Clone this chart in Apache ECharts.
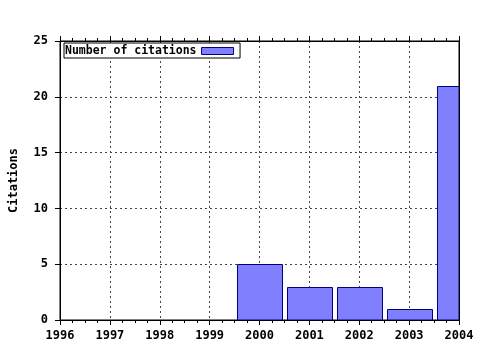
<!DOCTYPE html>
<html>
<head>
<meta charset="utf-8">
<script src="https://cdn.jsdelivr.net/npm/echarts@6/dist/echarts.min.js"></script>
<style>html,body{margin:0;padding:0;background:#fff}#c{width:480px;height:350px}</style>
</head>
<body>
<div id="c"></div>
<script>
var years = [2000, 2001, 2002, 2003, 2004];
var citations = [5, 3, 3, 1, 21];
var xMin = 1996, xMax = 2004;
var yMin = 0, yMax = 25, yStep = 5;
var seriesName = 'Number of citations';
var yTitle = 'Citations';

var FONT = 'DejaVu Sans Mono';
var chart = echarts.init(document.getElementById('c'), null, {renderer: 'canvas'});
var data = years.map(function (y, i) { return [y, citations[i]]; });
var txt = {fontFamily: FONT, fontWeight: 'bold', fontSize: 12, color: '#000'};
var grid = {type: [2, 3], color: '#444', width: 1};

chart.setOption({
  animation: false,
  backgroundColor: '#fff',
  grid: {left: 58, right: 21, top: 41, bottom: 30, show: true, borderColor: '#000', borderWidth: 1, backgroundColor: 'transparent'},
  legend: {
    left: 64, top: 43, orient: 'horizontal', align: 'right',
    padding: [2, 6, 1, 1], borderColor: '#000', borderWidth: 1, backgroundColor: '#fff',
    itemWidth: 32, itemHeight: 7, icon: 'rect',
    textStyle: Object.assign({}, txt, {fontSize: 11.5}),
    data: [{name: seriesName, icon: 'rect', itemStyle: {color: '#8080ff', borderColor: '#000080', borderWidth: 1}}]
  },
  xAxis: [{
    type: 'value', min: xMin, max: xMax, interval: 1, position: 'bottom',
    axisLine: {show: true, onZero: false, lineStyle: {color: '#000'}},
    axisTick: {show: true, inside: false, length: 5, lineStyle: {color: '#000'}},
    minorTick: {show: true, splitNumber: 4, length: 3, lineStyle: {color: '#000'}},
    axisLabel: Object.assign({margin: 10, formatter: function (v) { return String(v); }}, txt),
    splitLine: {show: true, lineStyle: grid}
  }, {
    type: 'value', min: xMin, max: xMax, interval: 1, position: 'top',
    axisLine: {show: true, onZero: false, lineStyle: {color: '#000'}},
    axisTick: {show: true, inside: false, length: 5, lineStyle: {color: '#000'}},
    minorTick: {show: true, splitNumber: 4, length: 3, lineStyle: {color: '#000'}},
    axisLabel: {show: false}, splitLine: {show: false}
  }],
  yAxis: [{
    type: 'value', min: yMin, max: yMax, interval: yStep,
    name: yTitle, nameLocation: 'middle', nameGap: 40, nameRotate: 90,
    nameTextStyle: txt,
    axisLine: {show: true, onZero: false, lineStyle: {color: '#000'}},
    axisTick: {show: true, inside: false, length: 5, lineStyle: {color: '#000'}},
    axisLabel: Object.assign({margin: 12}, txt),
    splitLine: {show: true, lineStyle: grid}
  }, {
    type: 'value', min: yMin, max: yMax, interval: yStep, position: 'right', z: 10,
    axisLine: {show: true, onZero: false, lineStyle: {color: '#000'}},
    axisTick: {show: false}, axisLabel: {show: false}, splitLine: {show: false}
  }],
  series: [{
    name: seriesName,
    type: 'custom',
    clip: true,
    xAxisIndex: 0,
    yAxisIndex: 0,
    itemStyle: {color: '#8080ff', borderColor: '#000080', borderWidth: 1},
    renderItem: function (params, api) {
      var x = api.value(0), v = api.value(1);
      var p0 = api.coord([x - 0.45, v]);
      var p1 = api.coord([x + 0.45, 0]);
      var rect = {x: Math.round(p0[0]) + 0.5, y: Math.round(p0[1]) + 0.5,
                  width: Math.round(p1[0] - p0[0]), height: Math.round(p1[1] - p0[1])};
      var cs = params.coordSys;
      var clipped = echarts.graphic.clipRectByRect(rect, {x: cs.x, y: cs.y, width: cs.width, height: cs.height});
      return clipped && {
        type: 'rect', shape: clipped,
        style: {fill: '#8080ff', stroke: '#000080', lineWidth: 1}
      };
    },
    encode: {x: 0, y: 1},
    data: data
  }]
});
</script>
</body>
</html>
